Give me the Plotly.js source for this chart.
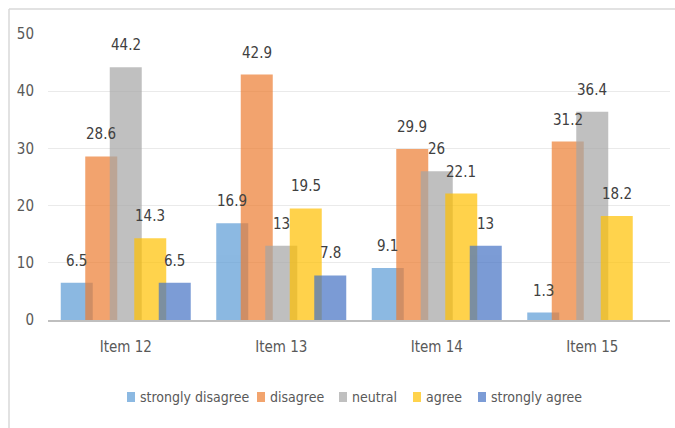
<!DOCTYPE html>
<html>
<head>
<meta charset="utf-8">
<script src="https://cdn.plot.ly/plotly-3.0.1.min.js"></script>
<style>html,body{margin:0;padding:0;background:#fff;overflow:hidden;}#chart{width:675px;height:428px;}</style>
</head>
<body>
<div id="chart"></div>
<script>
const categories = ["Item 12", "Item 13", "Item 14", "Item 15"];
const seriesNames = ["strongly disagree", "disagree", "neutral", "agree", "strongly agree"];
const stronglyDisagree = [6.5, 16.9, 9.1, 1.3];
const disagree = [28.6, 42.9, 29.9, 31.2];
const neutral = [44.2, 13, 26, 36.4];
const agree = [14.3, 19.5, 22.1, 18.2];
const stronglyAgree = [6.5, 7.8, 13, null];
const yTicks = [0, 10, 20, 30, 40, 50];

const seriesValues = [stronglyDisagree, disagree, neutral, agree, stronglyAgree];
const colors = ["#5B9BD5", "#ED7D31", "#A5A5A5", "#FFC000", "#4472C4"];
const FONT = "'Liberation Sans Narrow', 'DejaVu Sans Condensed', 'Liberation Sans', Arial, sans-serif";
const ML = 48, MR = 5, MT = 34, MB = 108, W = 675, H = 428;
const PW = W - ML - MR, PH = H - MT - MB;
const catPx = PW / categories.length;
const barPx = 32;
const centerPx = [-49, -24.5, 0, 24.5, 49];

const traces = seriesValues.map((vals, i) => ({
  type: "bar",
  name: seriesNames[i],
  x: categories,
  y: vals,
  width: barPx / catPx,
  offset: (centerPx[i] - barPx / 2) / catPx,
  marker: {color: colors[i], line: {width: 0}},
  opacity: 0.7,
  hoverinfo: "skip",
  showlegend: false
}));

const px2x = p => (p - ML) / PW;
const py2y = p => (H - MB - p) / PH;

const annotations = [];
seriesValues.forEach((vals, i) => {
  vals.forEach((v, j) => {
    if (v === null || v === undefined) return;
    annotations.push({
      x: categories[j], y: v, xref: "x", yref: "y",
      text: String(v), showarrow: false,
      xanchor: "center", yanchor: "middle",
      xshift: centerPx[i], yshift: 22,
      font: {family: FONT, size: 15, color: "#404040"}
    });
  });
});

// manual legend (positions in px)
const legendSquareX = [131, 261, 343, 417, 482];
const legendY = 397;
const shapes = [];
seriesNames.forEach((name, i) => {
  shapes.push({
    type: "rect", xref: "paper", yref: "paper",
    x0: px2x(legendSquareX[i] - 4), x1: px2x(legendSquareX[i] + 4),
    y0: py2y(legendY + 5), y1: py2y(legendY - 5),
    fillcolor: colors[i], opacity: 0.7, line: {width: 0}
  });
  annotations.push({
    x: px2x(legendSquareX[i] + 7), y: py2y(legendY), xref: "paper", yref: "paper",
    text: name, showarrow: false, xanchor: "left", yanchor: "middle",
    font: {family: FONT, size: 14, color: "#595959"}
  });
});

// chart frame (top and left edges)
shapes.push({type: "line", xref: "paper", yref: "paper",
  x0: px2x(9), x1: px2x(675), y0: py2y(9), y1: py2y(9),
  line: {color: "#D9D9D9", width: 1.5}});
shapes.push({type: "line", xref: "paper", yref: "paper",
  x0: px2x(9), x1: px2x(9), y0: py2y(9), y1: py2y(428),
  line: {color: "#D9D9D9", width: 1.5}});

const layout = {
  width: W, height: H,
  margin: {l: ML, r: MR, t: MT, b: MB},
  paper_bgcolor: "#ffffff",
  plot_bgcolor: "#ffffff",
  barmode: "overlay",
  showlegend: false,
  xaxis: {
    type: "category",
    categoryorder: "array", categoryarray: categories,
    range: [-0.5, categories.length - 0.5],
    showgrid: false, zeroline: false,
    showline: true, linecolor: "#BFBFBF", linewidth: 2,
    ticks: "", ticklabelstandoff: 12,
    tickfont: {family: FONT, size: 15, color: "#595959"}
  },
  yaxis: {
    range: [0, 50],
    tickvals: yTicks,
    showgrid: true, gridcolor: "#EAEAEA", gridwidth: 1,
    zeroline: false, showline: false, ticks: "",
    ticklabelstandoff: 13,
    tickfont: {family: FONT, size: 15, color: "#595959"}
  },
  annotations: annotations,
  shapes: shapes
};

Plotly.newPlot("chart", traces, layout, {staticPlot: true, displayModeBar: false});
</script>
</body>
</html>
